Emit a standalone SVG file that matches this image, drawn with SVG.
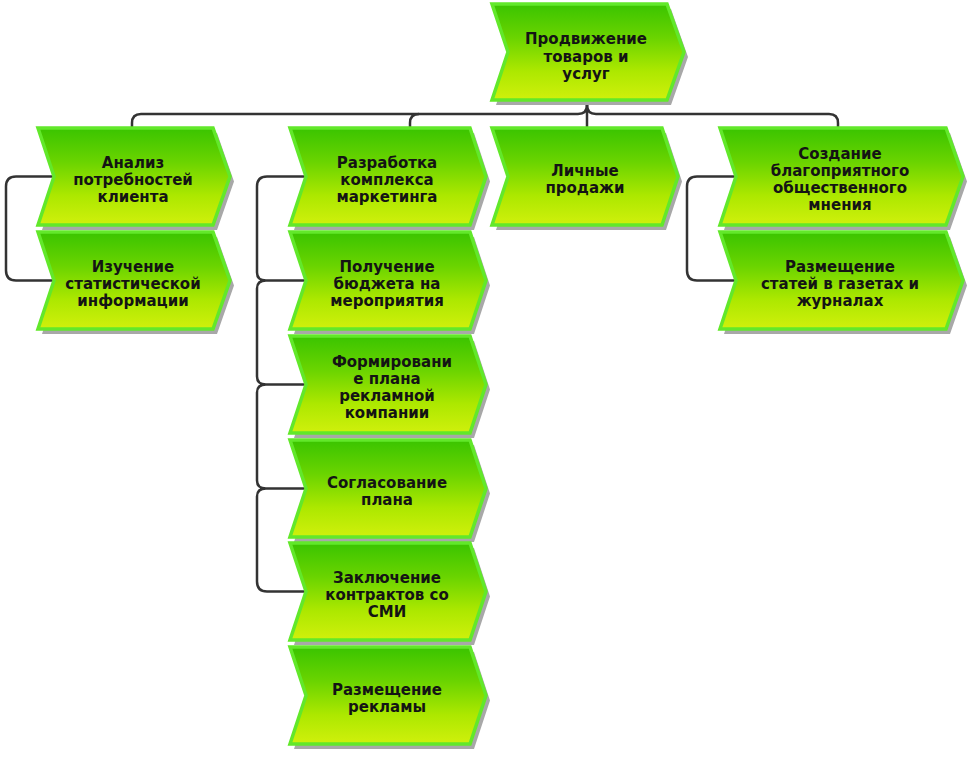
<svg xmlns="http://www.w3.org/2000/svg" width="975" height="757" viewBox="0 0 975 757">
<defs>
<linearGradient id="g" x1="0" y1="0" x2="0" y2="1">
<stop offset="0" stop-color="#3ac400"/>
<stop offset="0.35" stop-color="#6ad400"/>
<stop offset="0.7" stop-color="#ade800"/>
<stop offset="1" stop-color="#d0f00c"/>
</linearGradient>
<linearGradient id="gl" x1="0" y1="0" x2="1" y2="1">
<stop offset="0" stop-color="#ffffff" stop-opacity="0"/>
<stop offset="0.6" stop-color="#ffffff" stop-opacity="0.12"/>
<stop offset="1" stop-color="#ffffff" stop-opacity="0.3"/>
</linearGradient>
<style>
.sh{fill:#a8a8a8}
.bd{fill:url(#g);stroke:#62e82a;stroke-width:3.5;stroke-linejoin:miter}
.t{font-family:"DejaVu Sans","Verdana",sans-serif;font-weight:bold;font-size:15px;fill:#141414;text-anchor:middle}
.c{fill:none;stroke:#333333;stroke-width:2.5}
</style>
</defs>
<rect width="975" height="757" fill="#ffffff"/>

<g id="connectors">
<path class="c" d="M132,128 V123 Q132,114 141,114 H578 Q587,114 587,105 V100"/>
<path class="c" d="M587,105 Q587,114 596,114 H829 Q838,114 838,123 V128"/>
<path class="c" d="M587,100 V128"/>
<path class="c" d="M410,128 V123 Q410,114 419,114"/>
<path class="c" d="M54,176.5 H16 Q6,176.5 6,186.5 V270.5 Q6,280.5 16,280.5 H54"/>
<path class="c" d="M736,176.5 H697 Q687,176.5 687,186.5 V270.5 Q687,280.5 697,280.5 H736"/>
<path class="c" d="M306,176.5 H267 Q257,176.5 257,186.5 V272.5 Q257,280.5 266,280.5 Q257,280.5 257,288.5 V376.5 Q257,384.5 266,384.5 Q257,384.5 257,392.5 V480.5 Q257,488.5 266,488.5 Q257,488.5 257,496.5 V581.5 Q257,591.5 267,591.5 H306"/>
<path class="c" d="M266,280.5 H306 M266,384.5 H306 M266,488.5 H306"/>
</g>

<g id="n0">
<path class="sh" d="M496,9 H671 L688,57 L671,105 H496 L512,57 Z"/>
<path class="bd" d="M492,4 H667 L684,52 L667,100 H492 L508,52 Z"/>
<text class="t"><tspan x="586" y="44">Продвижение</tspan><tspan x="586" y="61.5">товаров и</tspan><tspan x="586" y="79">услуг</tspan></text>
</g>

<g id="n1">
<path class="sh" d="M42,133 H217 L234,181.5 L217,230 H42 L58,181.5 Z"/>
<path class="bd" d="M38,128 H213 L230,176.5 L213,225 H38 L54,176.5 Z"/>
<text class="t"><tspan x="133" y="167.5">Анализ</tspan><tspan x="133" y="184.5">потребностей</tspan><tspan x="133" y="201.5">клиента</tspan></text>
</g>
<g id="n2">
<path class="sh" d="M42,237 H217 L234,285.5 L217,334 H42 L58,285.5 Z"/>
<path class="bd" d="M38,232 H213 L230,280.5 L213,329 H38 L54,280.5 Z"/>
<text class="t"><tspan x="133" y="271.5">Изучение</tspan><tspan x="133" y="288.5">статистической</tspan><tspan x="133" y="305.5">информации</tspan></text>
</g>

<g id="n3">
<path class="sh" d="M294,133 H474 L490,181.5 L474,230 H294 L310,181.5 Z"/>
<path class="bd" d="M290,128 H470 L486,176.5 L470,225 H290 L306,176.5 Z"/>
<text class="t"><tspan x="387" y="167.5">Разработка</tspan><tspan x="387" y="184.5">комплекса</tspan><tspan x="387" y="201.5">маркетинга</tspan></text>
</g>
<g id="n4">
<path class="sh" d="M294,237 H474 L490,285.5 L474,334 H294 L310,285.5 Z"/>
<path class="bd" d="M290,232 H470 L486,280.5 L470,329 H290 L306,280.5 Z"/>
<text class="t"><tspan x="387" y="271.5">Получение</tspan><tspan x="387" y="288.5">бюджета на</tspan><tspan x="387" y="305.5">мероприятия</tspan></text>
</g>
<g id="n5">
<path class="sh" d="M294,341 H474 L490,389.5 L474,438 H294 L310,389.5 Z"/>
<path class="bd" d="M290,336 H470 L486,384.5 L470,433 H290 L306,384.5 Z"/>
<text class="t"><tspan x="392" y="367">Формировани</tspan><tspan x="387" y="384">е плана</tspan><tspan x="387" y="401">рекламной</tspan><tspan x="387" y="418">компании</tspan></text>
</g>
<g id="n6">
<path class="sh" d="M294,445 H474 L490,493.5 L474,542 H294 L310,493.5 Z"/>
<path class="bd" d="M290,440 H470 L486,488.5 L470,537 H290 L306,488.5 Z"/>
<text class="t"><tspan x="387" y="488">Согласование</tspan><tspan x="387" y="505">плана</tspan></text>
</g>
<g id="n7">
<path class="sh" d="M294,548 H474 L490,596.5 L474,645 H294 L310,596.5 Z"/>
<path class="bd" d="M290,543 H470 L486,591.5 L470,640 H290 L306,591.5 Z"/>
<text class="t"><tspan x="387" y="582.5">Заключение</tspan><tspan x="387" y="599.5">контрактов со</tspan><tspan x="387" y="616.5">СМИ</tspan></text>
</g>
<g id="n8">
<path class="sh" d="M294,652 H474 L490,700.5 L474,749 H294 L310,700.5 Z"/>
<path class="bd" d="M290,647 H470 L486,695.5 L470,744 H290 L306,695.5 Z"/>
<text class="t"><tspan x="387" y="695">Размещение</tspan><tspan x="387" y="712">рекламы</tspan></text>
</g>

<g id="n9">
<path class="sh" d="M496,133 H666 L682,181.5 L666,230 H496 L512,181.5 Z"/>
<path class="bd" d="M492,128 H662 L678,176.5 L662,225 H492 L508,176.5 Z"/>
<text class="t"><tspan x="585" y="176">Личные</tspan><tspan x="585" y="193">продажи</tspan></text>
</g>

<g id="n10">
<path class="sh" d="M724,133 H950 L967,181.5 L950,230 H724 L740,181.5 Z"/>
<path class="bd" d="M720,128 H946 L963,176.5 L946,225 H720 L736,176.5 Z"/>
<text class="t"><tspan x="840" y="159">Создание</tspan><tspan x="840" y="176">благоприятного</tspan><tspan x="840" y="193">общественного</tspan><tspan x="840" y="210">мнения</tspan></text>
</g>
<g id="n11">
<path class="sh" d="M724,237 H950 L967,285.5 L950,334 H724 L740,285.5 Z"/>
<path class="bd" d="M720,232 H946 L963,280.5 L946,329 H720 L736,280.5 Z"/>
<text class="t"><tspan x="840" y="271.5">Размещение</tspan><tspan x="840" y="288.5">статей в газетах и</tspan><tspan x="840" y="305.5">журналах</tspan></text>
</g>
</svg>
